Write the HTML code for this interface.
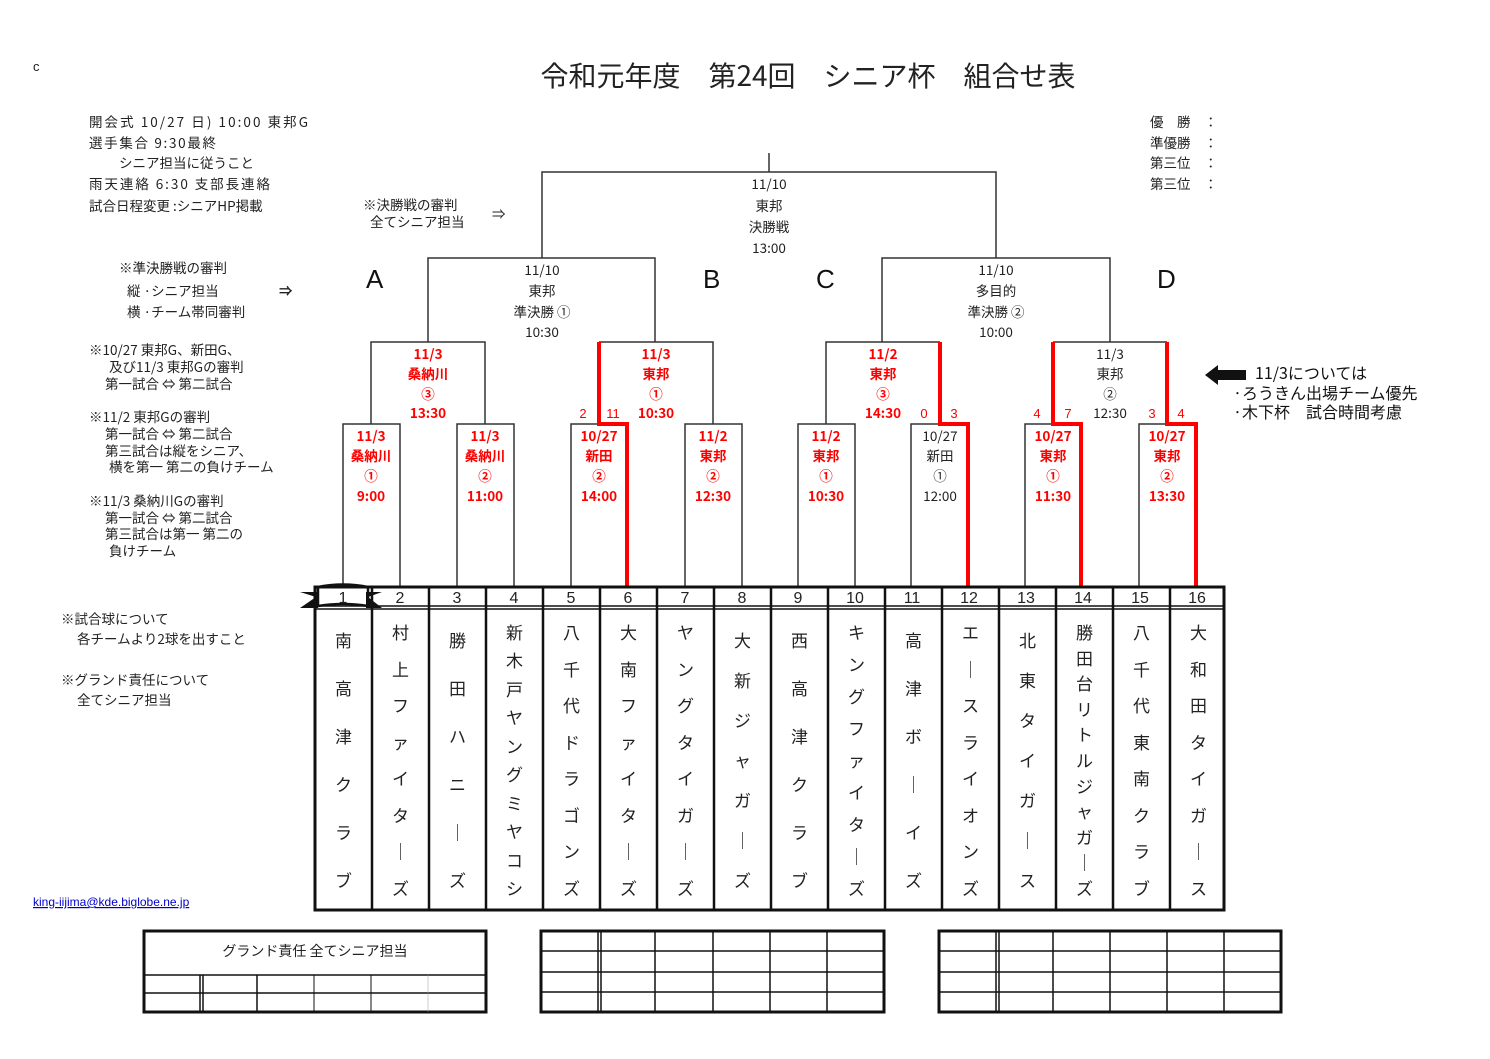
<!DOCTYPE html>
<html><head><meta charset="utf-8"><style>
body{margin:0;width:1490px;height:1059px;background:#fff;position:relative;overflow:hidden;font-family:"Liberation Sans","Noto Sans CJK JP",sans-serif;color:#222}
svg{position:absolute;left:0;top:0}
.col{position:absolute;top:622px;height:276px;width:57px;display:flex;flex-direction:column;justify-content:space-between;align-items:center;font-size:17px;line-height:20px;color:#222;font-family:"Noto Sans CJK JP",sans-serif}
.col.s{padding:8px 0;height:260px}
</style></head><body>
<svg width="1490" height="1059" viewBox="0 0 1490 1059" font-family="Liberation Sans, Noto Sans CJK JP, sans-serif">
<text x="33" y="71" font-size="13" fill="#222">c</text>
<text x="808" y="86" font-size="28" text-anchor="middle" fill="#222" font-family="Noto Sans CJK JP, sans-serif">令和元年度　第24回　シニア杯　組合せ表</text>
<g font-size="13.5" fill="#222" font-family="Noto Sans CJK JP, sans-serif">
<text x="89" y="127" textLength="219" lengthAdjust="spacing">開会式  10/27 日) 10:00  東邦G</text>
<text x="89" y="148" textLength="127" lengthAdjust="spacing">選手集合  9:30最終</text>
<text x="119" y="168">シニア担当に従うこと</text>
<text x="89" y="189" textLength="181" lengthAdjust="spacing">雨天連絡  6:30  支部長連絡</text>
<text x="89" y="211">試合日程変更 :シニアHP掲載</text>
<text x="363" y="210">※決勝戦の審判</text>
<text x="370" y="227">全てシニア担当</text>
<text x="492" y="219">⇒</text>
<text x="119" y="273">※準決勝戦の審判</text>
<text x="127" y="296">縦 ·シニア担当</text>
<text x="127" y="317">横 ·チーム帯同審判</text>
<text x="279" y="296" font-weight="bold">⇒</text>
<text x="89" y="355">※10/27 東邦G、新田G、</text>
<text x="109" y="372">及び11/3 東邦Gの審判</text>
<text x="105" y="389">第一試合 ⇔ 第二試合</text>
<text x="89" y="422">※11/2 東邦Gの審判</text>
<text x="105" y="439">第一試合 ⇔ 第二試合</text>
<text x="105" y="456">第三試合は縦をシニア、</text>
<text x="109" y="472">横を第一 第二の負けチーム</text>
<text x="89" y="506">※11/3 桑納川Gの審判</text>
<text x="105" y="523">第一試合 ⇔ 第二試合</text>
<text x="105" y="539">第三試合は第一 第二の</text>
<text x="109" y="556">負けチーム</text>
<text x="61" y="624">※試合球について</text>
<text x="77" y="644">各チームより2球を出すこと</text>
<text x="61" y="685">※グランド責任について</text>
<text x="77" y="705">全てシニア担当</text>
<text x="1150" y="127">優　勝　：</text>
<text x="1150" y="148">準優勝　：</text>
<text x="1150" y="168">第三位　：</text>
<text x="1150" y="189">第三位　：</text>
</g>
<text x="33" y="906" font-size="12" fill="#00c" text-decoration="underline">king-iijima@kde.biglobe.ne.jp</text>
<g font-size="26" fill="#111"><text x="366" y="288">A</text><text x="703" y="288">B</text><text x="816" y="288">C</text><text x="1157" y="288">D</text></g>
<path d="M1205 375 L1218 365 L1218 370 L1246 370 L1246 380 L1218 380 L1218 385 Z" fill="#111"/>
<g font-size="16" fill="#111" font-family="Noto Sans CJK JP, sans-serif">
<text x="1255" y="379">11/3については</text>
<text x="1233" y="399">·ろうきん出場チーム優先</text>
<text x="1233" y="418">·木下杯　試合時間考慮</text>
</g>
<g stroke="#333" stroke-width="1.5" fill="none">
<path d="M769 153 V172"/>
<path d="M542 258 V172 H996 V258"/>
<path d="M428 342 V258 H655 V342"/>
<path d="M882 342 V258 H1110 V258 V342"/>
<path d="M371 424 V342 H485 V424"/>
<path d="M599 342 H713 V424"/>
<path d="M826 424 V342 H940"/>
<path d="M1053 342 H1167"/>
<path d="M343 587 V424 H400 V587"/>
<path d="M457 587 V424 H514 V587"/>
<path d="M571 587 V424 H627"/>
<path d="M685 587 V424 H742 V587"/>
<path d="M798 587 V424 H855 V587"/>
<path d="M911 587 V424 H968"/>
<path d="M1025 587 V424 H1081"/>
<path d="M1139 587 V424 H1196"/>
</g>
<g stroke="#f00" stroke-width="4" fill="none">
<path d="M627 587 V424 H599 V342"/>
<path d="M968 587 V424 H940 V342"/>
<path d="M1081 587 V424 H1053 V342"/>
<path d="M1196 587 V424 H1167 V342"/>
</g>
<g font-size="13.5" text-anchor="middle" fill="#222" font-family="Noto Sans CJK JP, sans-serif">
<text x="769" y="189">11/10</text><text x="769" y="211">東邦</text><text x="769" y="232">決勝戦</text><text x="769" y="253">13:00</text>
<text x="542" y="275">11/10</text><text x="542" y="296">東邦</text><text x="542" y="317">準決勝 ①</text><text x="542" y="337">10:30</text>
<text x="996" y="275">11/10</text><text x="996" y="296">多目的</text><text x="996" y="317">準決勝 ②</text><text x="996" y="337">10:00</text>
<text x="1110" y="359">11/3</text><text x="1110" y="379">東邦</text><text x="1110" y="399">②</text><text x="1110" y="418">12:30</text>
<text x="940" y="441">10/27</text><text x="940" y="461">新田</text><text x="940" y="481">①</text><text x="940" y="501">12:00</text>
</g>
<g font-size="13.5" font-weight="bold" text-anchor="middle" fill="#f00" font-family="Noto Sans CJK JP, sans-serif">
<text x="428" y="359">11/3</text><text x="428" y="379">桑納川</text><text x="428" y="399">③</text><text x="428" y="418">13:30</text>
<text x="656" y="359">11/3</text><text x="656" y="379">東邦</text><text x="656" y="399">①</text><text x="656" y="418">10:30</text>
<text x="883" y="359">11/2</text><text x="883" y="379">東邦</text><text x="883" y="399">③</text><text x="883" y="418">14:30</text>
<text x="371" y="441">11/3</text><text x="371" y="461">桑納川</text><text x="371" y="481">①</text><text x="371" y="501">9:00</text>
<text x="485" y="441">11/3</text><text x="485" y="461">桑納川</text><text x="485" y="481">②</text><text x="485" y="501">11:00</text>
<text x="599" y="441">10/27</text><text x="599" y="461">新田</text><text x="599" y="481">②</text><text x="599" y="501">14:00</text>
<text x="713" y="441">11/2</text><text x="713" y="461">東邦</text><text x="713" y="481">②</text><text x="713" y="501">12:30</text>
<text x="826" y="441">11/2</text><text x="826" y="461">東邦</text><text x="826" y="481">①</text><text x="826" y="501">10:30</text>
<text x="1053" y="441">10/27</text><text x="1053" y="461">東邦</text><text x="1053" y="481">①</text><text x="1053" y="501">11:30</text>
<text x="1167" y="441">10/27</text><text x="1167" y="461">東邦</text><text x="1167" y="481">②</text><text x="1167" y="501">13:30</text>
</g>
<g font-size="13" fill="#f00" text-anchor="middle">
<text x="583" y="418">2</text><text x="613" y="418">11</text>
<text x="924" y="418">0</text><text x="954" y="418">3</text>
<text x="1037" y="418">4</text><text x="1068" y="418">7</text>
<text x="1152" y="418">3</text><text x="1181" y="418">4</text>
</g>
<g stroke="#111" fill="none">
<rect x="315" y="587" width="909" height="323" stroke-width="3"/>
<path d="M315 606 H1224 M315 609 H1224" stroke-width="1.5"/>
<path d="M372 587V910 M429 587V910 M486 587V910 M543 587V910 M600 587V910 M657 587V910 M714 587V910 M771 587V910 M828 587V910 M885 587V910 M942 587V910 M999 587V910 M1056 587V910 M1113 587V910 M1170 587V910" stroke-width="2.5"/>
</g>
<path d="M300 592 L316 597 L300 608 L318 608 L318 592 Z M382 592 L368 597 L382 608 L366 608 L366 592 Z" fill="#111"/>
<path d="M318 587 Q343 582 368 587 V606 Q343 602 318 606 Z" fill="none" stroke="#111" stroke-width="2.5"/>
<g font-size="16" text-anchor="middle" fill="#222">
<text x="343" y="603">1</text><text x="400" y="603">2</text><text x="457" y="603">3</text><text x="514" y="603">4</text><text x="571" y="603">5</text><text x="628" y="603">6</text><text x="685" y="603">7</text><text x="742" y="603">8</text><text x="798" y="603">9</text><text x="855" y="603">10</text><text x="912" y="603">11</text><text x="969" y="603">12</text><text x="1026" y="603">13</text><text x="1083" y="603">14</text><text x="1140" y="603">15</text><text x="1197" y="603">16</text>
</g>
<g stroke="#111" fill="none">
<rect x="144" y="931" width="342" height="81" stroke-width="3"/>
<path d="M144 975H486 M144 993H486" stroke-width="1.5"/>
<path d="M200 975V1012 M203 975V1012 M257 975V1012" stroke-width="1.5"/>
<path d="M314 975V1012 M371 975V1012" stroke-width="1"/>
<path d="M428 975V1012" stroke-width="0.5" stroke="#999"/>
<rect x="541" y="931" width="343" height="81" stroke-width="3"/>
<path d="M541 951H884 M541 972H884 M541 992H884 M598 931V1012 M601 931V1012 M655 931V1012 M713 931V1012 M770 931V1012 M827 931V1012" stroke-width="1.5"/>
<rect x="939" y="931" width="342" height="81" stroke-width="3"/>
<path d="M939 951H1281 M939 972H1281 M939 992H1281 M996 931V1012 M999 931V1012 M1053 931V1012 M1110 931V1012 M1167 931V1012 M1224 931V1012" stroke-width="1.5"/>
</g>
<text x="315" y="956" font-size="14" text-anchor="middle" fill="#222" font-family="Noto Sans CJK JP, sans-serif">グランド責任 全てシニア担当</text>
</svg>
<div class="col s" style="left:315px"><span>南</span><span>高</span><span>津</span><span>ク</span><span>ラ</span><span>ブ</span></div>
<div class="col" style="left:372px"><span>村</span><span>上</span><span>フ</span><span>ァ</span><span>イ</span><span>タ</span><span>｜</span><span>ズ</span></div>
<div class="col s" style="left:429px"><span>勝</span><span>田</span><span>ハ</span><span>ニ</span><span>｜</span><span>ズ</span></div>
<div class="col" style="left:486px"><span>新</span><span>木</span><span>戸</span><span>ヤ</span><span>ン</span><span>グ</span><span>ミ</span><span>ヤ</span><span>コ</span><span>シ</span></div>
<div class="col" style="left:543px"><span>八</span><span>千</span><span>代</span><span>ド</span><span>ラ</span><span>ゴ</span><span>ン</span><span>ズ</span></div>
<div class="col" style="left:600px"><span>大</span><span>南</span><span>フ</span><span>ァ</span><span>イ</span><span>タ</span><span>｜</span><span>ズ</span></div>
<div class="col" style="left:657px"><span>ヤ</span><span>ン</span><span>グ</span><span>タ</span><span>イ</span><span>ガ</span><span>｜</span><span>ズ</span></div>
<div class="col s" style="left:714px"><span>大</span><span>新</span><span>ジ</span><span>ャ</span><span>ガ</span><span>｜</span><span>ズ</span></div>
<div class="col s" style="left:771px"><span>西</span><span>高</span><span>津</span><span>ク</span><span>ラ</span><span>ブ</span></div>
<div class="col" style="left:828px"><span>キ</span><span>ン</span><span>グ</span><span>フ</span><span>ァ</span><span>イ</span><span>タ</span><span>｜</span><span>ズ</span></div>
<div class="col s" style="left:885px"><span>高</span><span>津</span><span>ボ</span><span>｜</span><span>イ</span><span>ズ</span></div>
<div class="col" style="left:942px"><span>エ</span><span>｜</span><span>ス</span><span>ラ</span><span>イ</span><span>オ</span><span>ン</span><span>ズ</span></div>
<div class="col s" style="left:999px"><span>北</span><span>東</span><span>タ</span><span>イ</span><span>ガ</span><span>｜</span><span>ス</span></div>
<div class="col" style="left:1056px"><span>勝</span><span>田</span><span>台</span><span>リ</span><span>ト</span><span>ル</span><span>ジ</span><span>ャ</span><span>ガ</span><span>｜</span><span>ズ</span></div>
<div class="col" style="left:1113px"><span>八</span><span>千</span><span>代</span><span>東</span><span>南</span><span>ク</span><span>ラ</span><span>ブ</span></div>
<div class="col" style="left:1170px"><span>大</span><span>和</span><span>田</span><span>タ</span><span>イ</span><span>ガ</span><span>｜</span><span>ス</span></div>
</body></html>
